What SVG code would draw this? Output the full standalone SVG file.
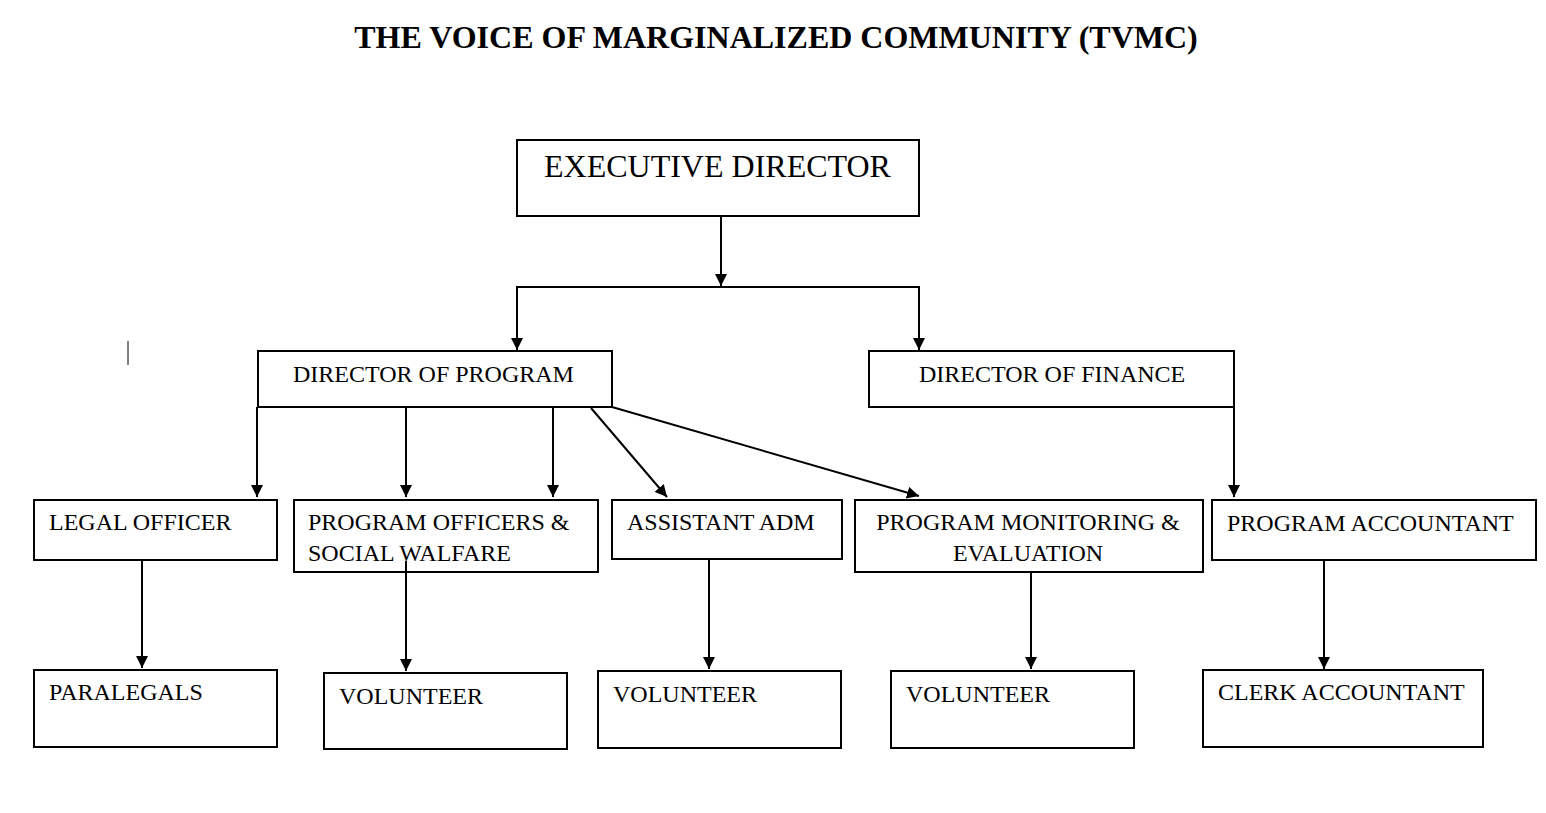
<svg xmlns="http://www.w3.org/2000/svg" width="1546" height="813" viewBox="0 0 1546 813">
<style>
.box{fill:#fff;stroke:#000;stroke-width:2}
.t{font-family:"Liberation Serif","Times New Roman",serif;font-size:24px;fill:#000}
.c{fill:none;stroke:#000;stroke-width:2}
</style>
<defs>
<marker id="ah" markerUnits="userSpaceOnUse" markerWidth="12" markerHeight="12" viewBox="0 0 12 12" refX="12" refY="6" orient="auto">
<path d="M0,0 L12,6 L0,12 Z" fill="#000"/>
</marker>
</defs>
<rect width="1546" height="813" fill="#fff"/>
<text x="776" y="48" text-anchor="middle" font-family="Liberation Serif,serif" font-weight="bold" font-size="32">THE VOICE OF MARGINALIZED COMMUNITY (TVMC)</text>
<line x1="128" y1="341" x2="128" y2="365" stroke="#000" stroke-width="1"/>
<g id="exec"><rect class="box" x="517" y="140" width="402" height="76"/><text class="t" x="544" y="177" style="font-size:32px">EXECUTIVE DIRECTOR</text></g>
<g id="dir-program"><rect class="box" x="258" y="351" width="354" height="56"/><text class="t" x="293" y="382">DIRECTOR OF PROGRAM</text></g>
<g id="dir-finance"><rect class="box" x="869" y="351" width="365" height="56"/><text class="t" x="919" y="382">DIRECTOR OF FINANCE</text></g>
<g id="legal"><rect class="box" x="34" y="500" width="243" height="60"/><text class="t" x="49" y="530">LEGAL OFFICER</text></g>
<g id="prog-officers"><rect class="box" x="294" y="500" width="304" height="72"/><text class="t" x="308" y="530">PROGRAM OFFICERS &amp;</text><text class="t" x="308" y="561">SOCIAL WALFARE</text></g>
<g id="asst-adm"><rect class="box" x="612" y="500" width="230" height="59"/><text class="t" x="627" y="530">ASSISTANT ADM</text></g>
<g id="pme"><rect class="box" x="855" y="500" width="348" height="72"/><text class="t" x="1028" y="530" text-anchor="middle">PROGRAM MONITORING &amp;</text><text class="t" x="1028" y="561" text-anchor="middle">EVALUATION</text></g>
<g id="prog-accountant"><rect class="box" x="1212" y="500" width="324" height="60"/><text class="t" x="1227" y="531">PROGRAM ACCOUNTANT</text></g>
<g id="paralegals"><rect class="box" x="34" y="670" width="243" height="77"/><text class="t" x="49" y="700">PARALEGALS</text></g>
<g id="volunteer1"><rect class="box" x="324" y="673" width="243" height="76"/><text class="t" x="339" y="704">VOLUNTEER</text></g>
<g id="volunteer2"><rect class="box" x="598" y="671" width="243" height="77"/><text class="t" x="613" y="702">VOLUNTEER</text></g>
<g id="volunteer3"><rect class="box" x="891" y="671" width="243" height="77"/><text class="t" x="906" y="702">VOLUNTEER</text></g>
<g id="clerk"><rect class="box" x="1203" y="670" width="280" height="77"/><text class="t" x="1218" y="700">CLERK ACCOUNTANT</text></g>
<g id="connectors">
<line class="c" x1="721" y1="217" x2="721" y2="286" marker-end="url(#ah)"/>
<line class="c" x1="516" y1="287" x2="920" y2="287"/>
<line class="c" x1="517" y1="287" x2="517" y2="350" marker-end="url(#ah)"/>
<line class="c" x1="919" y1="287" x2="919" y2="350" marker-end="url(#ah)"/>
<line class="c" x1="257" y1="407" x2="257" y2="497" marker-end="url(#ah)"/>
<line class="c" x1="406" y1="408" x2="406" y2="497" marker-end="url(#ah)"/>
<line class="c" x1="553" y1="408" x2="553" y2="497" marker-end="url(#ah)"/>
<line class="c" x1="591" y1="408" x2="667" y2="497" marker-end="url(#ah)"/>
<line class="c" x1="612" y1="407" x2="919" y2="496" marker-end="url(#ah)"/>
<line class="c" x1="1234" y1="407" x2="1234" y2="497" marker-end="url(#ah)"/>
<line class="c" x1="142" y1="561" x2="142" y2="668" marker-end="url(#ah)"/>
<line class="c" x1="406" y1="561" x2="406" y2="671" marker-end="url(#ah)"/>
<line class="c" x1="709" y1="560" x2="709" y2="669" marker-end="url(#ah)"/>
<line class="c" x1="1031" y1="573" x2="1031" y2="669" marker-end="url(#ah)"/>
<line class="c" x1="1324" y1="561" x2="1324" y2="669" marker-end="url(#ah)"/>
</g>
</svg>
